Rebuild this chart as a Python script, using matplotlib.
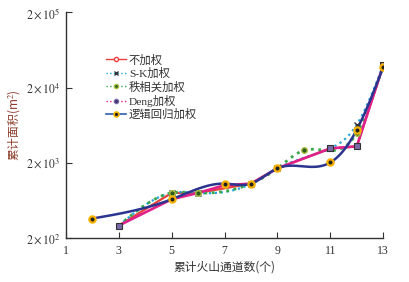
import numpy as np
import matplotlib
matplotlib.use("Agg")
import matplotlib.pyplot as plt
from matplotlib.lines import Line2D

plt.rcParams['font.family'] = ['Liberation Serif', 'Noto Sans CJK SC', 'DejaVu Sans']
plt.rcParams['mathtext.fontset'] = 'stix'

# ---- data ----
x_red = [3, 5, 6, 8, 9, 11, 12, 13]
y_red = [290, 790, 790, 1050, 1680, 3090, 3290, 39000]

x_sk = [3, 5, 6, 8, 9, 11, 12, 13]
y_sk = [290, 790, 790, 1050, 1680, 3090, 6400, 39500]

x_rank = [3, 5, 6, 8, 9, 10, 12, 13]
y_rank = [290, 790, 790, 1050, 1680, 2910, 4950, 39000]

x_deng = [3, 5, 6, 7, 8, 9, 11, 12, 13]
y_deng = [290, 650, 790, 1000, 1050, 1680, 3090, 3290, 39500]

x_log = [2, 5, 7, 8, 9, 11, 12, 13]
y_log = [360, 650, 1050, 1050, 1680, 2010, 5480, 37500]

labels = ['不加权', 'S-K加权', '秩相关加权', 'Deng加权', '逻辑回归加权']
xticks = [1, 3, 5, 7, 9, 11, 13]
yticks = [2e2, 2e3, 2e4, 2e5]
ytick_labels = [r'$2\times10^{2}$', r'$2\times10^{3}$', r'$2\times10^{4}$', r'$2\times10^{5}$']


def natural_spline(x, y, n=200):
    x = np.asarray(x, float)
    y = np.log10(np.asarray(y, float))
    k = len(x)
    h = np.diff(x)
    A = np.zeros((k, k))
    b = np.zeros(k)
    A[0, 0] = 1
    A[-1, -1] = 1
    for i in range(1, k - 1):
        A[i, i - 1] = h[i - 1]
        A[i, i] = 2 * (h[i - 1] + h[i])
        A[i, i + 1] = h[i]
        b[i] = 3 * ((y[i + 1] - y[i]) / h[i] - (y[i] - y[i - 1]) / h[i - 1])
    c = np.linalg.solve(A, b)
    xs, ys = [], []
    for i in range(k - 1):
        bi = (y[i + 1] - y[i]) / h[i] - h[i] * (2 * c[i] + c[i + 1]) / 3
        di = (c[i + 1] - c[i]) / (3 * h[i])
        t = np.linspace(0, h[i], n // (k - 1) + 2)
        xs.append(x[i] + t)
        ys.append(y[i] + bi * t + c[i] * t ** 2 + di * t ** 3)
    return np.concatenate(xs), 10 ** np.concatenate(ys)


fig = plt.figure(figsize=(4.09, 2.82), dpi=100)
ax = fig.add_axes([0.161, 0.157, 0.776, 0.799])
ax.set_yscale('log')

lw = 1.6
# 不加权
ax.plot(x_red, y_red, '-', color='#e8403a', lw=lw, zorder=2)
ax.plot(x_red, y_red, 'o', ms=3.5, mfc='white', mec='#e8403a', mew=1, zorder=6)
# S-K
sx, sy = natural_spline(x_sk, y_sk)
ax.plot(sx, sy, ':', color='#1fa6dc', lw=lw, zorder=3)
ax.plot(x_sk, y_sk, 'x', ms=4, color='#333333', mew=1, zorder=6)
# rank
rx, ry = natural_spline(x_rank, y_rank)
ax.plot(rx, ry, ':', color='#3aa84a', lw=lw + 0.4, zorder=4)
ax.plot(x_rank, y_rank, 'o', ms=4, mfc='#2d5a1e', mec='#a8c040', mew=1, zorder=6)
# Deng
ax.plot(x_deng, y_deng, '-', color='#e0218a', lw=lw + 0.3, zorder=4.5)
ax.plot([x_deng[0], x_deng[6], x_deng[7], x_deng[8]], [y_deng[0], y_deng[6], y_deng[7], y_deng[8]],
        's', ms=4, mfc='#7a6aa8', mec='#333333', mew=0.8, zorder=6)
# logistic
lx, ly = natural_spline(x_log, y_log)
ax.plot(lx, ly, '-', color='#2b3590', lw=lw + 0.2, zorder=5)
ax.plot(x_log, y_log, 'o', ms=4.5, mfc='#222222', mec='#f5b000', mew=1.6, zorder=7)

# legend handles
handles = [
    Line2D([], [], color='#e8403a', lw=1, ls='-', marker='o', ms=3, mfc='white', mec='#e8403a'),
    Line2D([], [], color='#1fa6dc', lw=1, ls=':', marker='x', ms=3, mec='#333333'),
    Line2D([], [], color='#3aa84a', lw=1, ls=':', marker='o', ms=3, mfc='#2d5a1e', mec='#a8c040'),
    Line2D([], [], color='#e0218a', lw=1, ls=':', marker='o', ms=3, mfc='#3a2a6a', mec='#7a6aa8'),
    Line2D([], [], color='#2b5fb0', lw=1.2, ls='-', marker='o', ms=3.5, mfc='#222222', mec='#f5b000', mew=1.2),
]
leg = ax.legend(handles, labels, loc='upper left', bbox_to_anchor=(0.095, 0.86), frameon=False,
                handlelength=1.7, handletextpad=0.3, labelspacing=0.2,
                prop={'family': ['Liberation Serif', 'Noto Sans CJK SC'], 'size': 8.2})
for t in leg.get_texts():
    t.set_color('#333333')

ax.set_xlim(1, 13)
ax.set_ylim(2e2, 2e5)
ax.set_xticks(xticks)
ax.set_xticklabels([str(v) for v in xticks], fontsize=8.5)
ax.set_yticks(yticks)
ax.set_yticklabels(ytick_labels, fontsize=8.5)
ax.yaxis.set_minor_locator(matplotlib.ticker.NullLocator())
ax.tick_params(direction='in', length=4, width=0.8, colors='#333333')
ax.tick_params(axis='x', pad=5)
ax.tick_params(axis='y', pad=4)
for s in ['top', 'right']:
    ax.spines[s].set_visible(False)
for s in ['left', 'bottom']:
    ax.spines[s].set_linewidth(1.0)
    ax.spines[s].set_color('#333333')

ax.set_xlabel('累计火山通道数(个)', fontsize=8.5, color='#333333',
              family=['Noto Sans CJK SC', 'DejaVu Sans'], labelpad=3)
ax.set_ylabel('累计面积(m$^2$)', fontsize=8.5, color='#8a3a28',
              family=['Noto Sans CJK SC', 'DejaVu Sans'], labelpad=3)

fig.savefig('out.png', dpi=100)
